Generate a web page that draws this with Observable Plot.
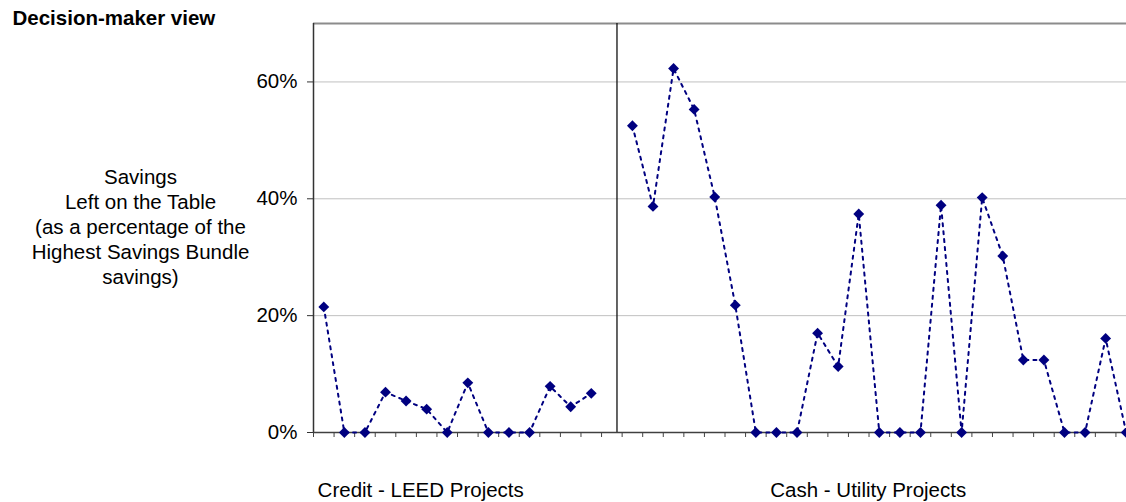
<!DOCTYPE html>
<html>
<head>
<meta charset="utf-8">
<script src="https://cdn.jsdelivr.net/npm/d3@7"></script>
<script src="https://cdn.jsdelivr.net/npm/@observablehq/plot@0.6"></script>
<style>
  html, body { margin: 0; padding: 0; background: #fff; overflow: hidden; }
  #chart { width: 1126px; height: 502px; overflow: hidden; }
  #chart svg { display: block; max-width: none !important; }
  #chart svg g[aria-label="y-axis tick label"] text { font-size: 20.5px; }
</style>
</head>
<body>
<div id="chart"></div>
<script>
// Share of the best bundle's savings that each project leaves unclaimed
const creditSavings = [0.215, 0, 0, 0.069, 0.054, 0.040, 0, 0.085, 0, 0, 0, 0.079, 0.044, 0.067];
const cashSavings = [0.525, 0.387, 0.623, 0.553, 0.403, 0.218, 0, 0, 0, 0.170, 0.113, 0.374,
                     0, 0, 0, 0.389, 0, 0.402, 0.302, 0.124, 0.124, 0, 0, 0.161, 0];
const groupLabels = ["Credit - LEED Projects", "Cash - Utility Projects"];
const yTicks = [0, 0.2, 0.4, 0.6];
const title = "Decision-maker view";
const yLabel = "Savings\nLeft on the Table\n(as a percentage of the\nHighest Savings Bundle\nsavings)";

// One slot per project; an empty slot separates the two groups
const gapSlots = 1;
const cashStart = creditSavings.length + gapSlots;
const slotCount = cashStart + cashSavings.length;
const rows = [
  ...creditSavings.map((v, i) => ({slot: i + 0.5, value: v})),
  {slot: creditSavings.length + 0.5, value: NaN},
  ...cashSavings.map((v, i) => ({slot: cashStart + i + 0.5, value: v}))
];
const divider = creditSavings.length + 0.75;
const groupLabelX = [0.2, 22.2];

const navy = "#000080";
const font = "'Liberation Sans', Arial, Helvetica, sans-serif";

// The frame runs a little past the page's right edge, so the last project is cut off
const chart = Plot.plot({
  width: 1140,
  height: 502,
  marginLeft: 313,
  marginRight: 4,
  marginTop: 23,
  marginBottom: 70,
  style: {fontFamily: font, fontSize: "20.5px", background: "#fff", color: "#000", overflow: "visible"},
  x: {domain: [0, slotCount], axis: null},
  y: {domain: [0, 0.7], axis: null},
  marks: [
    Plot.ruleY(yTicks.filter(d => d > 0), {stroke: "#c0c0c0", strokeWidth: 1}),
    Plot.ruleY([0.7], {stroke: "#8c8c8c", strokeWidth: 2}),
    Plot.ruleX([0], {stroke: "#333", strokeWidth: 1.5}),
    Plot.ruleX([divider], {stroke: "#111", strokeWidth: 1.3}),
    Plot.axisX({ticks: d3.range(0, slotCount + 1), tickFormat: () => "", tickSize: 5, stroke: "#444", label: null}),
    Plot.axisY({ticks: yTicks, tickFormat: d => `${Math.round(d * 100)}%`, tickSize: 6, tickPadding: 10,
                fontSize: 20.5, stroke: "#333", label: null}),
    Plot.ruleY([0], {stroke: "#404040", strokeWidth: 1.5}),
    Plot.line(rows, {x: "slot", y: "value", stroke: navy, strokeWidth: 2, strokeDasharray: "3,5"}),
    Plot.dot(rows.filter(d => !isNaN(d.value)), {x: "slot", y: "value", symbol: "diamond2", r: 4.9, fill: navy, stroke: "none"}),
    Plot.text([yLabel], {frameAnchor: "left", dx: -173, dy: -2, textAnchor: "middle", lineHeight: 1.22, fontSize: 20.5, fill: "#000"}),
    Plot.text(groupLabels, {x: (d, i) => groupLabelX[i], y: 0, dy: 64, textAnchor: "start", lineAnchor: "bottom", fontSize: 20.5, fill: "#000"}),
    Plot.text([title], {frameAnchor: "top-left", dx: -301, dy: 1, textAnchor: "start", lineAnchor: "bottom",
                        fontWeight: "bold", fontSize: 20.5, fill: "#000"})
  ]
});

document.getElementById("chart").append(chart);
</script>
</body>
</html>
